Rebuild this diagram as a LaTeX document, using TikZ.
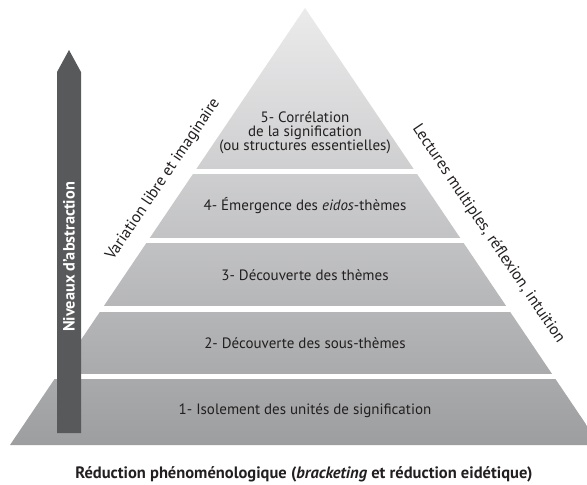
\documentclass[tikz,border=0pt]{standalone}
\usepackage{fontspec}
\setmainfont{PT Sans}
\definecolor{arrowgray}{HTML}{58595B}
\definecolor{pyrtop}{HTML}{EBEBEC}
\definecolor{pyrmid}{HTML}{D4D5D6}
\definecolor{pyrbot}{HTML}{9D9EA0}
\definecolor{inkgray}{HTML}{231F20}
\begin{document}
\begin{tikzpicture}[x=1pt,y=-1pt,
  layertext/.style={font=\fontsize{15}{13.5}\selectfont,text=inkgray},
  sidetext/.style={font=\fontsize{16}{16}\selectfont,text=inkgray,sloped,inner sep=0pt},
  gapline/.style={draw=white,line width=5.5pt}]
\useasboundingbox (0,0) rectangle (587,485);
\clip (0,0) rectangle (587,485);
% pyramid
\coordinate (apex) at (305,8);
\coordinate (bl) at (10,445);
\coordinate (br) at (600,445);
\shade[top color=pyrtop,middle color=pyrmid,bottom color=pyrbot] (apex) -- (br) -- (bl) -- cycle;
\foreach \y in {171.5,240.5,309,376.5}
  \draw[gapline] (0,\y) -- (587,\y);
% levels
\node[layertext] (l1) at (305,411) {1- Isolement des unités de signification};
\node[layertext] (l2) at (305,343) {2- Découverte des sous-thèmes};
\node[layertext] (l3) at (305,275) {3- Découverte des thèmes};
\node[layertext] (l4) at (305,206) {4- Émergence des \textit{eidos}-thèmes};
\node[layertext,align=center] (l5) at (305,133) {5- Corrélation\\de la signification\\(ou structures essentielles)};
% side labels
\path (bl) -- (apex) node[sidetext,pos=0.58,above=14pt] (var) {Variation libre et imaginaire};
\path (apex) -- (br) node[sidetext,pos=0.55,above=18pt] (lect) {Lectures multiples, réflexion, intuition};
% abstraction arrow
\fill[arrowgray] (57,433) -- (57,72) -- (69,50) -- (81,72) -- (81,433) -- cycle;
\node[rotate=90,text=white,font=\bfseries\fontsize{16.3}{17}\selectfont] (niv) at (69,257) {Niveaux d’abstraction};
% caption
\node[font=\bfseries\fontsize{16.5}{17}\selectfont,text=inkgray] (red) at (304,474) {Réduction phénoménologique (\textit{bracketing} et réduction eidétique)};
\end{tikzpicture}
\end{document}
